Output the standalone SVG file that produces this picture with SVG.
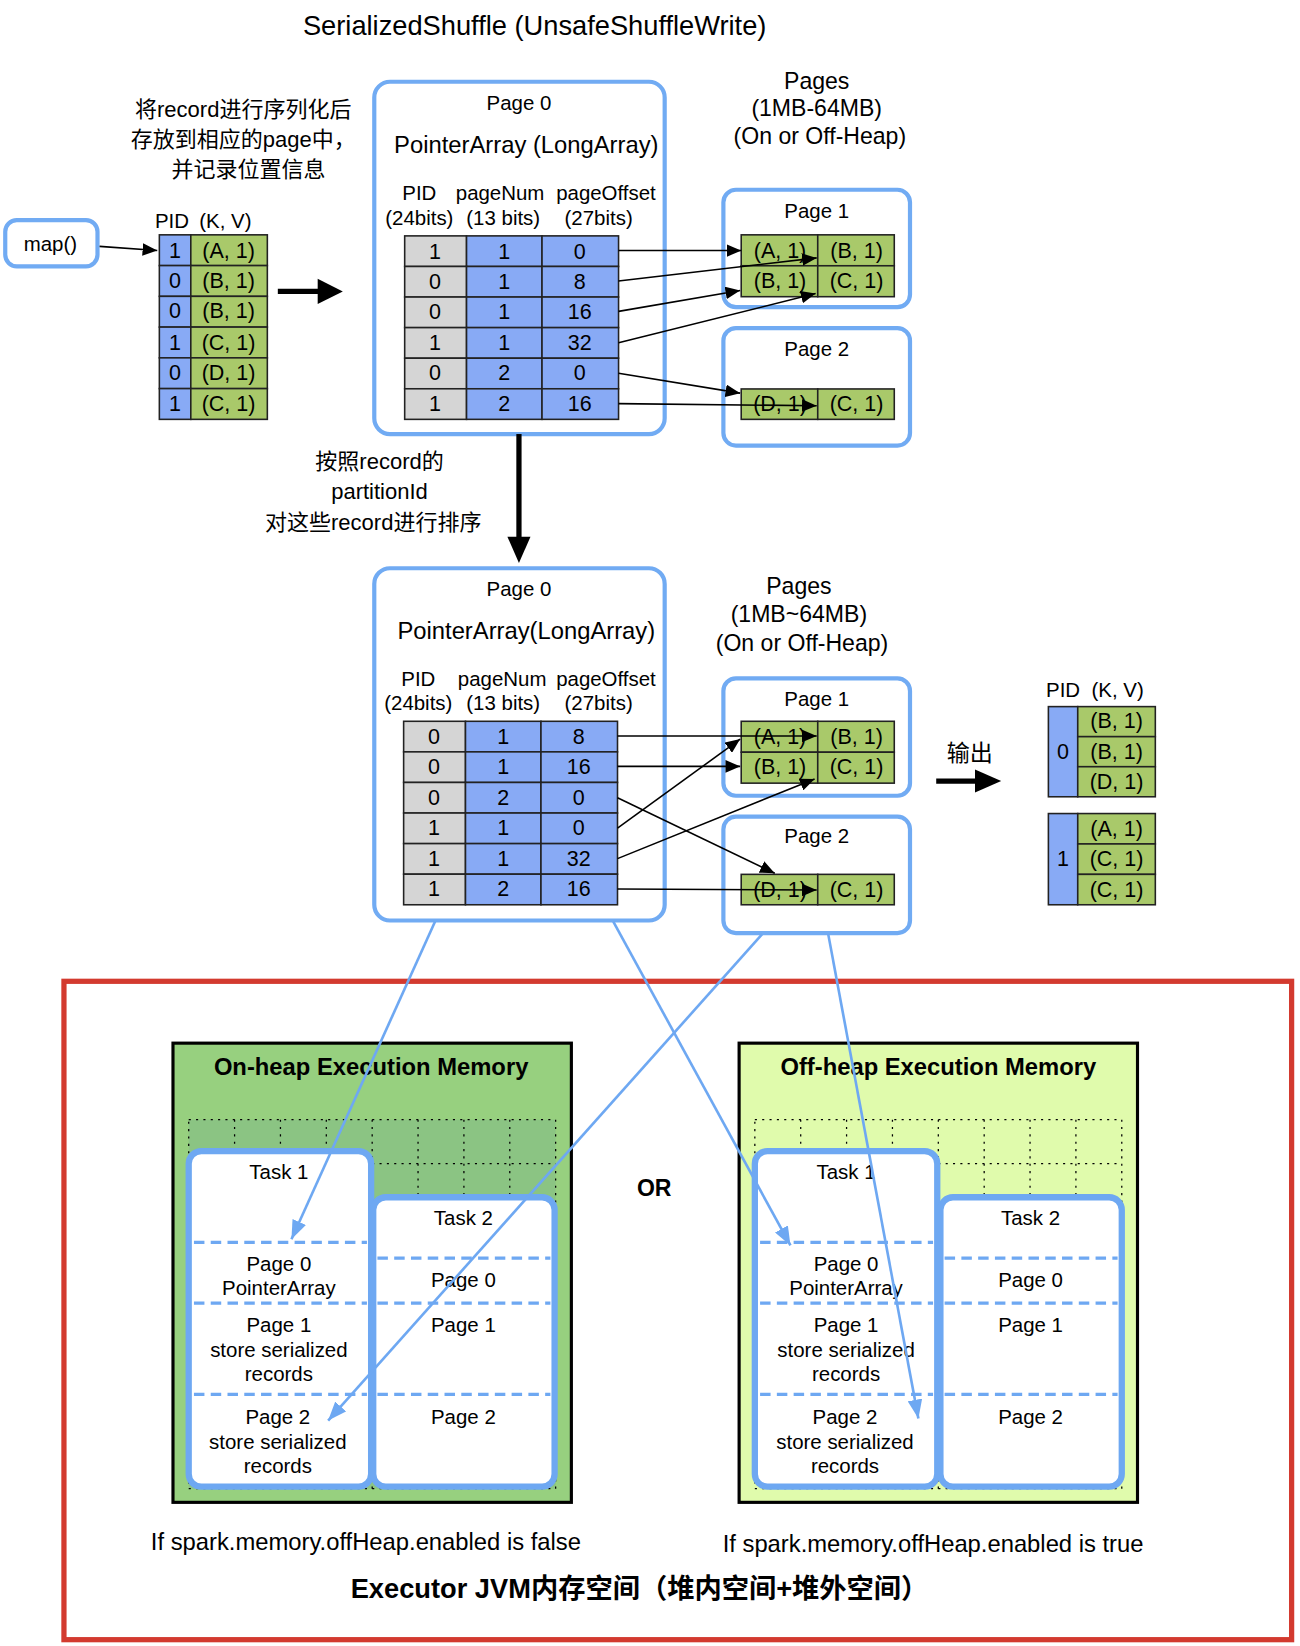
<svg xmlns="http://www.w3.org/2000/svg" width="1300" height="1646" viewBox="0 0 1300 1646">
<defs>
<style>
.t{font-family:"Liberation Sans","Noto Sans CJK SC",sans-serif;fill:#000;text-anchor:middle;dominant-baseline:central}
.s19{font-size:19.5px}.s20{font-size:20.5px}.s21{font-size:21px}.s22{font-size:22px}.s23{font-size:22.7px}.s26{font-size:26px}
.b{font-weight:bold}
.pg{fill:#fff;stroke:#71abf3;stroke-width:4}
.cb{fill:#88aaf5;stroke:#222;stroke-width:1.5}
.cg{fill:#a9c96a;stroke:#222;stroke-width:1.5}
.cr{fill:#d5d5d5;stroke:#222;stroke-width:1.5}
.ln{stroke:#000;stroke-width:1.5;fill:none;marker-end:url(#ah)}
.bl{stroke:#6ea8f2;stroke-width:2.5;fill:none;marker-end:url(#bh)}
.task{fill:#fff;stroke:#6ea8f2;stroke-width:6}
.dash{stroke:#6ea8f2;stroke-width:3;stroke-dasharray:10 6;fill:none}
.grid{stroke:#000;stroke-width:1.2;stroke-dasharray:2 5;fill:none}
.thick{stroke:#000;stroke-width:5;fill:none}
</style>
<marker id="ah" markerUnits="userSpaceOnUse" markerWidth="14" markerHeight="12" refX="14" refY="6" orient="auto"><path d="M0,0 L14,6 L0,12 z" fill="#000"/></marker>
<marker id="bh" markerUnits="userSpaceOnUse" markerWidth="18" markerHeight="14" refX="18" refY="7" orient="auto"><path d="M0,0 L18,7 L0,14 z" fill="#6ea8f2"/></marker>
</defs>
<rect width="1300" height="1646" fill="#fff"/>
<g transform="scale(1.04839)">
<text class="t s26" x="510" y="24">SerializedShuffle (UnsafeShuffleWrite)</text>

<g id="note1">
<text class="t s21" x="232" y="104">将record进行序列化后</text>
<text class="t s21" x="232" y="133">存放到相应的page中，</text>
<text class="t s21" x="237" y="162">并记录位置信息</text>
</g>

<g id="map">
<rect class="pg" x="5" y="210" width="88" height="44" rx="11"/>
<text class="t s19" x="48" y="232">map()</text>
</g>

<g id="input-table">
<text class="t s19" x="164" y="210">PID</text><text class="t s19" x="215" y="210">(K, V)</text>
<rect class="cb" x="152" y="224" width="30" height="29.33"/><rect class="cg" x="182" y="224" width="73" height="29.33"/>
<rect class="cb" x="152" y="253.33" width="30" height="29.33"/><rect class="cg" x="182" y="253.33" width="73" height="29.33"/>
<rect class="cb" x="152" y="282.67" width="30" height="29.33"/><rect class="cg" x="182" y="282.67" width="73" height="29.33"/>
<rect class="cb" x="152" y="312" width="30" height="29.33"/><rect class="cg" x="182" y="312" width="73" height="29.33"/>
<rect class="cb" x="152" y="341.33" width="30" height="29.33"/><rect class="cg" x="182" y="341.33" width="73" height="29.33"/>
<rect class="cb" x="152" y="370.67" width="30" height="29.33"/><rect class="cg" x="182" y="370.67" width="73" height="29.33"/>
<text class="t s20" x="167" y="239">1</text><text class="t s20" x="218" y="239">(A, 1)</text>
<text class="t s20" x="167" y="268">0</text><text class="t s20" x="218" y="268">(B, 1)</text>
<text class="t s20" x="167" y="297">0</text><text class="t s20" x="218" y="297">(B, 1)</text>
<text class="t s20" x="167" y="327">1</text><text class="t s20" x="218" y="327">(C, 1)</text>
<text class="t s20" x="167" y="356">0</text><text class="t s20" x="218" y="356">(D, 1)</text>
<text class="t s20" x="167" y="385">1</text><text class="t s20" x="218" y="385">(C, 1)</text>
</g>

<g id="page0-top">
<rect class="pg" x="357" y="78" width="277" height="336" rx="15"/>
<text class="t s19" x="495" y="98">Page 0</text>
<text class="t s23" x="502" y="138">PointerArray (LongArray)</text>
<text class="t s19" x="400" y="184">PID</text><text class="t s19" x="400" y="207">(24bits)</text>
<text class="t s19" x="477" y="184">pageNum</text><text class="t s19" x="480" y="207">(13 bits)</text>
<text class="t s19" x="578" y="184">pageOffset</text><text class="t s19" x="571" y="207">(27bits)</text>
<rect class="cr" x="386" y="225" width="59" height="29.17"/><rect class="cb" x="445" y="225" width="72" height="29.17"/><rect class="cb" x="517" y="225" width="73" height="29.17"/>
<rect class="cr" x="386" y="254.17" width="59" height="29.17"/><rect class="cb" x="445" y="254.17" width="72" height="29.17"/><rect class="cb" x="517" y="254.17" width="73" height="29.17"/>
<rect class="cr" x="386" y="283.33" width="59" height="29.17"/><rect class="cb" x="445" y="283.33" width="72" height="29.17"/><rect class="cb" x="517" y="283.33" width="73" height="29.17"/>
<rect class="cr" x="386" y="312.5" width="59" height="29.17"/><rect class="cb" x="445" y="312.5" width="72" height="29.17"/><rect class="cb" x="517" y="312.5" width="73" height="29.17"/>
<rect class="cr" x="386" y="341.67" width="59" height="29.17"/><rect class="cb" x="445" y="341.67" width="72" height="29.17"/><rect class="cb" x="517" y="341.67" width="73" height="29.17"/>
<rect class="cr" x="386" y="370.83" width="59" height="29.17"/><rect class="cb" x="445" y="370.83" width="72" height="29.17"/><rect class="cb" x="517" y="370.83" width="73" height="29.17"/>
<text class="t s20" x="415" y="240">1</text><text class="t s20" x="481" y="240">1</text><text class="t s20" x="553" y="240">0</text>
<text class="t s20" x="415" y="269">0</text><text class="t s20" x="481" y="269">1</text><text class="t s20" x="553" y="269">8</text>
<text class="t s20" x="415" y="298">0</text><text class="t s20" x="481" y="298">1</text><text class="t s20" x="553" y="298">16</text>
<text class="t s20" x="415" y="327">1</text><text class="t s20" x="481" y="327">1</text><text class="t s20" x="553" y="327">32</text>
<text class="t s20" x="415" y="356">0</text><text class="t s20" x="481" y="356">2</text><text class="t s20" x="553" y="356">0</text>
<text class="t s20" x="415" y="385">1</text><text class="t s20" x="481" y="385">2</text><text class="t s20" x="553" y="385">16</text>
</g>

<g id="pages-label-top">
<text class="t s22" x="779" y="77">Pages</text>
<text class="t s22" x="779" y="103">(1MB-64MB)</text>
<text class="t s22" x="782" y="130">(On or Off-Heap)</text>
</g>

<g id="page1-top">
<rect class="pg" x="690" y="181" width="178" height="112" rx="12"/>
<text class="t s19" x="779" y="201">Page 1</text>
<rect class="cg" x="707" y="224" width="73" height="29.5"/><rect class="cg" x="780" y="224" width="73" height="29.5"/>
<rect class="cg" x="707" y="253.5" width="73" height="29.5"/><rect class="cg" x="780" y="253.5" width="73" height="29.5"/>
<text class="t s20" x="744" y="239">(A, 1)</text><text class="t s20" x="817" y="239">(B, 1)</text>
<text class="t s20" x="744" y="268">(B, 1)</text><text class="t s20" x="817" y="268">(C, 1)</text>
</g>

<g id="page2-top">
<rect class="pg" x="690" y="313" width="178" height="112" rx="12"/>
<text class="t s19" x="779" y="332">Page 2</text>
<rect class="cg" x="707" y="371" width="73" height="29"/><rect class="cg" x="780" y="371" width="73" height="29"/>
<text class="t s20" x="744" y="385.5">(D, 1)</text><text class="t s20" x="817" y="385.5">(C, 1)</text>
</g>

<g id="note2">
<text class="t s21" x="362" y="440">按照record的</text>
<text class="t s21" x="362" y="469">partitionId</text>
<text class="t s21" x="356" y="498">对这些record进行排序</text>
</g>

<g id="page0-bottom">
<rect class="pg" x="357" y="542" width="277" height="336" rx="15"/>
<text class="t s19" x="495" y="561">Page 0</text>
<text class="t s23" x="502" y="601">PointerArray(LongArray)</text>
<text class="t s19" x="399" y="647">PID</text><text class="t s19" x="399" y="670">(24bits)</text>
<text class="t s19" x="479" y="647">pageNum</text><text class="t s19" x="480" y="670">(13 bits)</text>
<text class="t s19" x="578" y="647">pageOffset</text><text class="t s19" x="571" y="670">(27bits)</text>
<rect class="cr" x="385" y="688" width="59" height="29.17"/><rect class="cb" x="444" y="688" width="72" height="29.17"/><rect class="cb" x="516" y="688" width="73" height="29.17"/>
<rect class="cr" x="385" y="717.17" width="59" height="29.17"/><rect class="cb" x="444" y="717.17" width="72" height="29.17"/><rect class="cb" x="516" y="717.17" width="73" height="29.17"/>
<rect class="cr" x="385" y="746.33" width="59" height="29.17"/><rect class="cb" x="444" y="746.33" width="72" height="29.17"/><rect class="cb" x="516" y="746.33" width="73" height="29.17"/>
<rect class="cr" x="385" y="775.5" width="59" height="29.17"/><rect class="cb" x="444" y="775.5" width="72" height="29.17"/><rect class="cb" x="516" y="775.5" width="73" height="29.17"/>
<rect class="cr" x="385" y="804.67" width="59" height="29.17"/><rect class="cb" x="444" y="804.67" width="72" height="29.17"/><rect class="cb" x="516" y="804.67" width="73" height="29.17"/>
<rect class="cr" x="385" y="833.83" width="59" height="29.17"/><rect class="cb" x="444" y="833.83" width="72" height="29.17"/><rect class="cb" x="516" y="833.83" width="73" height="29.17"/>
<text class="t s20" x="414" y="703">0</text><text class="t s20" x="480" y="703">1</text><text class="t s20" x="552" y="703">8</text>
<text class="t s20" x="414" y="732">0</text><text class="t s20" x="480" y="732">1</text><text class="t s20" x="552" y="732">16</text>
<text class="t s20" x="414" y="761">0</text><text class="t s20" x="480" y="761">2</text><text class="t s20" x="552" y="761">0</text>
<text class="t s20" x="414" y="790">1</text><text class="t s20" x="480" y="790">1</text><text class="t s20" x="552" y="790">0</text>
<text class="t s20" x="414" y="819">1</text><text class="t s20" x="480" y="819">1</text><text class="t s20" x="552" y="819">32</text>
<text class="t s20" x="414" y="848">1</text><text class="t s20" x="480" y="848">2</text><text class="t s20" x="552" y="848">16</text>
</g>

<g id="pages-label-bottom">
<text class="t s22" x="762" y="559">Pages</text>
<text class="t s22" x="762" y="586">(1MB~64MB)</text>
<text class="t s22" x="765" y="613">(On or Off-Heap)</text>
</g>

<g id="page1-bottom">
<rect class="pg" x="690" y="647" width="178" height="112" rx="12"/>
<text class="t s19" x="779" y="666">Page 1</text>
<rect class="cg" x="707" y="688" width="73" height="29.5"/><rect class="cg" x="780" y="688" width="73" height="29.5"/>
<rect class="cg" x="707" y="717.5" width="73" height="29.5"/><rect class="cg" x="780" y="717.5" width="73" height="29.5"/>
<text class="t s20" x="744" y="703">(A, 1)</text><text class="t s20" x="817" y="703">(B, 1)</text>
<text class="t s20" x="744" y="732">(B, 1)</text><text class="t s20" x="817" y="732">(C, 1)</text>
</g>

<g id="page2-bottom">
<rect class="pg" x="690" y="779" width="178" height="111" rx="12"/>
<text class="t s19" x="779" y="797">Page 2</text>
<rect class="cg" x="707" y="834" width="73" height="29"/><rect class="cg" x="780" y="834" width="73" height="29"/>
<text class="t s20" x="744" y="848.5">(D, 1)</text><text class="t s20" x="817" y="848.5">(C, 1)</text>
</g>

<g id="output">
<text class="t s22" x="925" y="718">输出</text>
<text class="t s19" x="1014" y="658">PID</text><text class="t s19" x="1066" y="658">(K, V)</text>
<rect class="cb" x="1000" y="674" width="28" height="86"/>
<rect class="cg" x="1028" y="674" width="74" height="28.67"/><rect class="cg" x="1028" y="702.67" width="74" height="28.67"/><rect class="cg" x="1028" y="731.33" width="74" height="28.67"/>
<text class="t s20" x="1014" y="717">0</text>
<text class="t s20" x="1065" y="688">(B, 1)</text><text class="t s20" x="1065" y="717">(B, 1)</text><text class="t s20" x="1065" y="746">(D, 1)</text>
<rect class="cb" x="1000" y="776" width="28" height="87"/>
<rect class="cg" x="1028" y="776" width="74" height="29"/><rect class="cg" x="1028" y="805" width="74" height="29"/><rect class="cg" x="1028" y="834" width="74" height="29"/>
<text class="t s20" x="1014" y="819.5">1</text>
<text class="t s20" x="1065" y="790.5">(A, 1)</text><text class="t s20" x="1065" y="819.5">(C, 1)</text><text class="t s20" x="1065" y="848.5">(C, 1)</text>
</g>

<g id="executor">
<rect x="61" y="936" width="1171" height="628" fill="none" stroke="#d33a2f" stroke-width="5"/>
<text class="t b s26" x="610" y="1515">Executor JVM内存空间（堆内空间+堆外空间）</text>
<text class="t s23" x="349" y="1470">If spark.memory.offHeap.enabled is false</text>
<text class="t s23" x="890" y="1472">If spark.memory.offHeap.enabled is true</text>
<text class="t b s22" x="624" y="1133">OR</text>
</g>

<g id="onheap">
<rect x="165" y="995" width="380" height="438" fill="#97d07f" stroke="#000" stroke-width="3"/>
<text class="t b s23" x="354" y="1017">On-heap Execution Memory</text>
<rect x="180" y="1068" width="350" height="352" fill="#8bc483"/>
<path class="grid" d="M180,1068H530V1420H180Z M180,1110H530 M223.75,1068V1420 M267.5,1068V1420 M311.25,1068V1420 M355,1068V1420 M398.75,1068V1420 M442.5,1068V1420 M486.25,1068V1420"/>
<rect class="task" x="180" y="1098" width="174" height="320" rx="12"/>
<rect class="task" x="356" y="1142" width="173" height="276" rx="12"/>
<path class="dash" d="M185,1185H350 M185,1243H350 M185,1330H350 M360,1200H525 M360,1243H525 M360,1330H525"/>
<text class="t s19" x="266" y="1117">Task 1</text>
<text class="t s19" x="266" y="1205">Page 0</text><text class="t s19" x="266" y="1228">PointerArray</text>
<text class="t s19" x="266" y="1263">Page 1</text><text class="t s19" x="266" y="1287">store serialized</text><text class="t s19" x="266" y="1310">records</text>
<text class="t s19" x="265" y="1351">Page 2</text><text class="t s19" x="265" y="1375">store serialized</text><text class="t s19" x="265" y="1398">records</text>
<text class="t s19" x="442" y="1161">Task 2</text>
<text class="t s19" x="442" y="1220">Page 0</text>
<text class="t s19" x="442" y="1263">Page 1</text>
<text class="t s19" x="442" y="1351">Page 2</text>
</g>

<g id="offheap">
<rect x="705" y="995" width="380" height="438" fill="#e0fbac" stroke="#000" stroke-width="3"/>
<text class="t b s23" x="895" y="1017">Off-heap Execution Memory</text>
<path class="grid" d="M720,1068H1070V1420H720Z M720,1110H1070 M763.75,1068V1420 M807.5,1068V1420 M851.25,1068V1420 M895,1068V1420 M938.75,1068V1420 M982.5,1068V1420 M1026.25,1068V1420"/>
<rect class="task" x="720" y="1098" width="174" height="320" rx="12"/>
<rect class="task" x="897" y="1142" width="173" height="276" rx="12"/>
<path class="dash" d="M725,1185H890 M725,1243H890 M725,1330H890 M901,1200H1066 M901,1243H1066 M901,1330H1066"/>
<text class="t s19" x="807" y="1117">Task 1</text>
<text class="t s19" x="807" y="1205">Page 0</text><text class="t s19" x="807" y="1228">PointerArray</text>
<text class="t s19" x="807" y="1263">Page 1</text><text class="t s19" x="807" y="1287">store serialized</text><text class="t s19" x="807" y="1310">records</text>
<text class="t s19" x="806" y="1351">Page 2</text><text class="t s19" x="806" y="1375">store serialized</text><text class="t s19" x="806" y="1398">records</text>
<text class="t s19" x="983" y="1161">Task 2</text>
<text class="t s19" x="983" y="1220">Page 0</text>
<text class="t s19" x="983" y="1263">Page 1</text>
<text class="t s19" x="983" y="1351">Page 2</text>
</g>

<g id="connectors">
<path class="ln" d="M95,235 L150,239"/>
<path class="thick" d="M265,278 H305"/><path d="M303,266 L327,278 L303,290 Z"/>
<path class="ln" d="M590,239 L707,239"/>
<path class="ln" d="M590,268 L779,246"/>
<path class="ln" d="M590,297 L706,277"/>
<path class="ln" d="M590,327 L778,280"/>
<path class="ln" d="M590,356 L706,375"/>
<path class="ln" d="M590,385 L779,387"/>
<path class="thick" d="M495,414 V515" stroke-width="4"/><path d="M484,512 L495,537 L506,512 Z"/>
<path class="ln" d="M589,702 L779,702"/>
<path class="ln" d="M589,731 L706,731"/>
<path class="ln" d="M589,761 L739,833"/>
<path class="ln" d="M589,790 L706,705"/>
<path class="ln" d="M589,819 L777,743"/>
<path class="ln" d="M589,848 L779,849"/>
<path class="thick" d="M893,745 H933" stroke-width="4"/><path d="M930,734 L955,745 L930,756 Z"/>
<path class="bl" d="M415,879 L278,1182"/>
<path class="bl" d="M585,879 L754,1188"/>
<path class="bl" d="M727,891 L313,1355"/>
<path class="bl" d="M790,891 L876,1353"/>
</g>
</g>
</svg>
